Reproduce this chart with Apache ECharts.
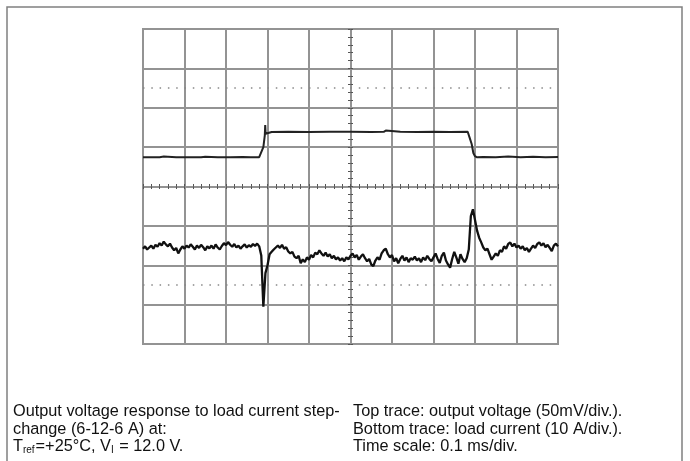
<!DOCTYPE html>
<html><head><meta charset="utf-8">
<script src="https://cdn.jsdelivr.net/npm/echarts@6/dist/echarts.min.js"></script>
<style>html,body{margin:0;padding:0;background:#fff}#c{width:690px;height:461px}</style>
</head><body><div id="c"></div>
<script>
// Time in divisions (0.1 ms/div), screen centred on 0; amplitude in divisions
const timeRange = [-5, 5];
const ampRange = [-4, 4];
const dottedLevels = [2.5, -2.5];

// Top trace (step) sample times and levels (div)
const topTime = [-5, -4.6, -4.5, -4.2, -3.9, -3.6, -3.5, -3.2, -2.9, -2.6,
  -2.4, -2.2, -2.164, -2.10, -2.065, -2.055, -2.045, -2.03, -1.9, -1.5,
  -1.0, -0.5, 0, 0.5, 0.8, 0.85, 1.2, 1.6, 2.0, 2.4,
  2.824, 2.87, 2.92, 2.96, 3.0, 3.05, 3.2, 3.5, 3.8, 4.1,
  4.4, 4.7, 5.0];
const topValue = [0.74, 0.745, 0.76, 0.74, 0.745, 0.74, 0.755, 0.74, 0.745, 0.75,
  0.74, 0.745, 0.75, 1.0, 1.30, 1.56, 1.34, 1.39, 1.385, 1.39,
  1.385, 1.39, 1.39, 1.385, 1.39, 1.42, 1.39, 1.385, 1.39, 1.385,
  1.39, 1.24, 1.08, 0.85, 0.77, 0.74, 0.75, 0.745, 0.76, 0.74,
  0.755, 0.745, 0.75];

// Bottom trace (noisy) sampled evenly across the screen (div)
const bottomValue = [
  -1.58, -1.52, -1.60, -1.55, -1.50, -1.58, -1.48, -1.53, -1.44, -1.50,
  -1.40, -1.47, -1.52, -1.45, -1.55, -1.62, -1.56, -1.70, -1.60, -1.52,
  -1.58, -1.50, -1.55, -1.47, -1.53, -1.60, -1.50, -1.56, -1.48, -1.54,
  -1.62, -1.52, -1.57, -1.50, -1.58, -1.47, -1.55, -1.60, -1.51, -1.44,
  -1.49, -1.41, -1.48, -1.53, -1.46, -1.55, -1.50, -1.58, -1.52, -1.47,
  -1.55, -1.49, -1.53, -1.46, -1.51, -1.45, -1.52, -1.75, -3.05, -2.20,
  -2.00, -1.72, -1.66, -1.60, -1.55, -1.50, -1.56, -1.48, -1.58, -1.54,
  -1.65, -1.70, -1.66, -1.78, -1.82, -1.76, -1.95, -1.85, -1.92, -1.80,
  -1.86, -1.74, -1.80, -1.68, -1.72, -1.62, -1.70, -1.76, -1.68, -1.78,
  -1.72, -1.82, -1.76, -1.85, -1.80, -1.88, -1.82, -1.90, -1.80, -1.85,
  -1.76,
  -1.70, -1.80, -1.74, -1.86, -1.78, -1.72, -1.82, -1.90, -1.84, -1.98,
  -2.02, -1.88, -1.80, -1.86, -1.70, -1.62, -1.58, -1.72, -1.80, -1.74,
  -1.90, -1.82, -1.95, -1.84, -1.76, -1.88, -1.80, -1.92, -1.82, -1.86,
  -1.78, -1.88, -1.82, -1.92, -1.80, -1.87, -1.76, -1.84, -1.90, -1.80,
  -1.70, -1.84, -1.94, -1.76, -1.68, -1.88, -1.98, -2.06, -1.84, -1.66,
  -1.80, -1.96, -1.72, -1.84, -1.92, -1.82,
  -1.60, -0.75, -0.58, -0.85, -1.12, -1.30, -1.42, -1.55, -1.62, -1.58,
  -1.72, -1.86, -1.78, -1.70, -1.76, -1.62, -1.66, -1.52, -1.58, -1.46,
  -1.42, -1.52, -1.45, -1.55, -1.50, -1.58, -1.52, -1.62, -1.56, -1.66,
  -1.58, -1.50, -1.56, -1.46, -1.42, -1.50, -1.44, -1.54, -1.48, -1.56,
  -1.64, -1.50, -1.45, -1.52];

const captionLeft = [
  'Output voltage response to load current step-',
  'change (6-12-6 A) at:',
  'T{sub|ref}=+25°C, V{sub|I} = 12.0 V.'
];
const captionRight = [
  'Top trace: output voltage (50mV/div.).',
  'Bottom trace: load current (10 A/div.).',
  'Time scale: 0.1 ms/div.'
];

const bottomStep = (timeRange[1] - timeRange[0]) / (bottomValue.length - 1);
const bottomData = bottomValue.map((v, i) => [timeRange[0] + i * bottomStep, v]);
const topData = topValue.map((v, i) => [topTime[i], v]);

const gridLine = { color: '#939393', width: 2 };
const tickStyle = { color: '#555', width: 1 };

function centreAxis(pos, range) {
  return {
    type: 'value', min: range[0], max: range[1], interval: 1, position: pos,
    axisLine: { show: false, onZero: true, onZeroAxisIndex: 0 },
    axisTick: { show: true, length: 2.5, lineStyle: tickStyle },
    minorTick: { show: true, splitNumber: 5, length: 2.5, lineStyle: tickStyle },
    axisLabel: { show: false }, splitLine: { show: false }, minorSplitLine: { show: false }
  };
}
function mainAxis(range) {
  return {
    type: 'value', min: range[0], max: range[1], interval: 1,
    axisLine: { show: false }, axisTick: { show: false }, axisLabel: { show: false },
    splitLine: { show: true, lineStyle: gridLine }
  };
}
const textBase = { fontFamily: 'Liberation Sans', fontSize: 16.3, fontWeight: 'normal', color: '#111', lineHeight: 17.5,
  rich: { sub: { fontFamily: 'Liberation Sans', fontSize: 10, color: '#111', verticalAlign: 'bottom', lineHeight: 8, padding: [0, 1, 0, 0] } } };

const chart = echarts.init(document.getElementById('c'), null, { renderer: 'canvas' });
chart.setOption({
  animation: false,
  backgroundColor: '#fff',
  grid: { left: 143, top: 29, width: 415, height: 315, show: true, borderColor: '#939393', borderWidth: 2, outerBoundsMode: 'none', containLabel: false },
  xAxis: [mainAxis(timeRange), centreAxis('bottom', timeRange), centreAxis('top', timeRange)],
  yAxis: [mainAxis(ampRange), centreAxis('left', ampRange), centreAxis('right', ampRange)],
  title: [
    { left: 13, top: 403, padding: 0, text: captionLeft.join('\n'), textStyle: textBase },
    { left: 353, top: 403, padding: 0, text: captionRight.join('\n'), textStyle: textBase }
  ],
  graphic: [
    { type: 'rect', silent: true, shape: { x: 7, y: 7, width: 675, height: 480 }, style: { fill: 'none', stroke: '#808080', lineWidth: 1.5 } }
  ],
  series: [
    { type: 'line', data: bottomData, showSymbol: false, silent: true, lineStyle: { color: '#111', width: 2.3 } },
    { type: 'line', data: topData, showSymbol: false, silent: true, lineStyle: { color: '#222', width: 2 },
      markLine: { silent: true, symbol: ['none', 'none'], label: { show: false },
        lineStyle: { color: '#888', type: [1.5, 6.8], width: 1.5 },
        data: dottedLevels.map(v => ({ yAxis: v })) } }
  ]
});
</script></body></html>
